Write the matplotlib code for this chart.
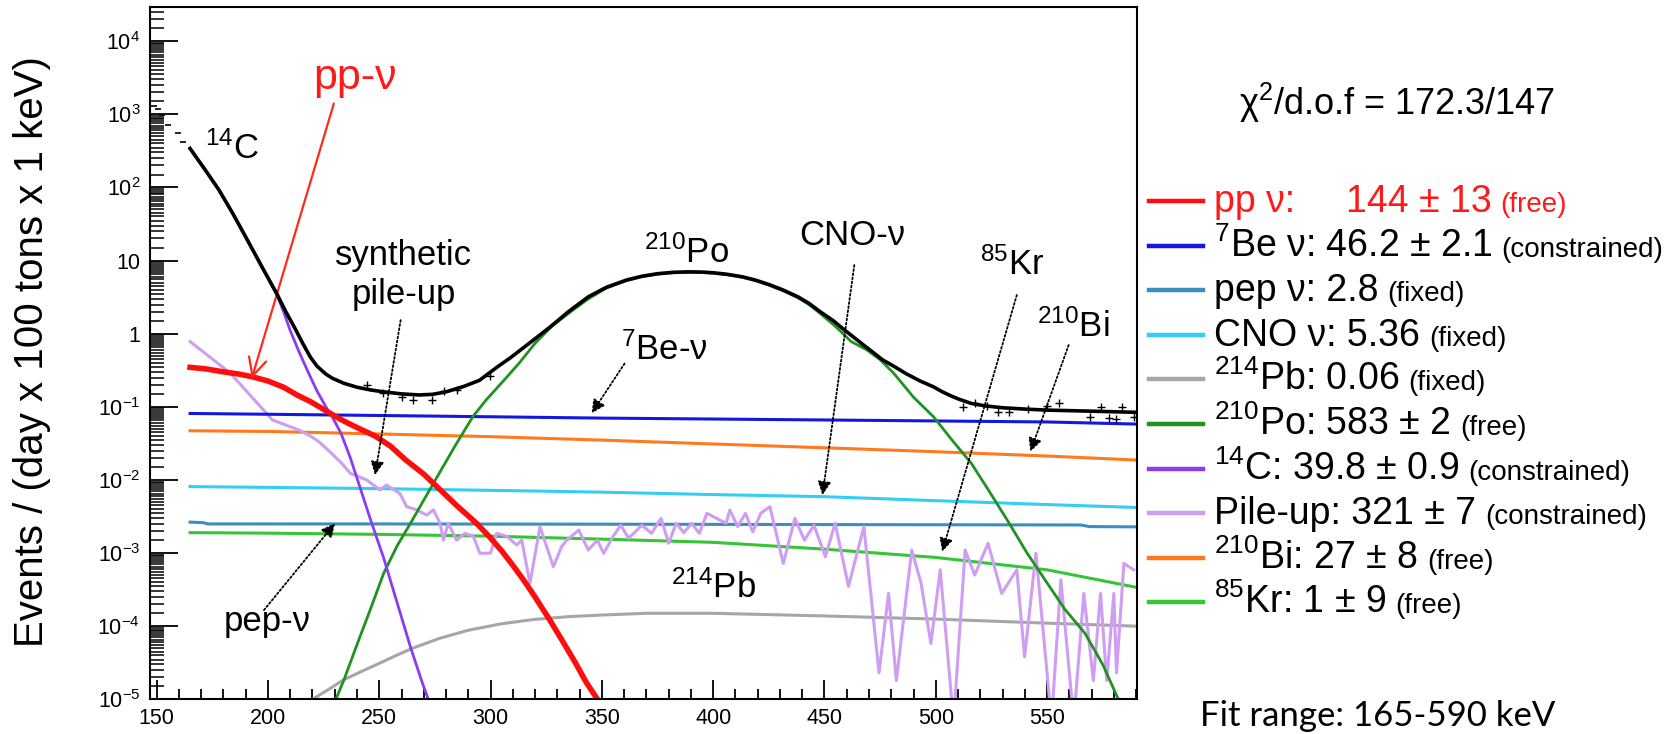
import matplotlib
matplotlib.use('Agg')
import matplotlib.pyplot as plt
from matplotlib.lines import Line2D
from matplotlib.ticker import FixedLocator, NullFormatter

plt.rcParams['font.family'] = ['Liberation Sans', 'DejaVu Sans']
plt.rcParams['mathtext.fontset'] = 'custom'
plt.rcParams['mathtext.rm'] = 'Liberation Sans'
plt.rcParams['mathtext.default'] = 'regular'

#####################################################
# Values (keV, events / day / 100 t / keV)
#####################################################
# total fit (black)
fit_kev = [165, 172, 178, 184, 190, 197, 204, 208, 212, 216, 219, 222, 226, 229, 234, 240,
           246, 252, 260, 268, 274, 280, 288, 295, 303, 309, 315, 321, 327, 335, 344, 352,
           361, 368, 375, 382, 389, 395, 400, 406, 413, 419, 425, 431, 438, 443, 448, 454,
           459, 463, 467, 471, 476, 481, 487, 493, 499, 503, 507, 511, 516, 522, 530, 540,
           550, 570, 590]
fit_cts = [340, 170, 92, 45, 21, 8.5, 3.5, 2.0, 1.2, 0.7, 0.48, 0.36, 0.28, 0.245, 0.21, 0.185,
           0.17, 0.16, 0.15, 0.145, 0.148, 0.16, 0.19, 0.23, 0.35, 0.47, 0.65, 0.9, 1.25, 2.0,
           3.2, 4.3, 5.4, 6.1, 6.6, 6.9, 7.0, 6.95, 6.8, 6.5, 6.0, 5.4, 4.7, 4.0, 3.2, 2.6,
           2.0, 1.5, 1.12, 0.9, 0.72, 0.58, 0.44, 0.36, 0.28, 0.225, 0.187, 0.16, 0.14,
           0.125, 0.111, 0.103, 0.097, 0.093, 0.09, 0.087, 0.084]

# data points (crosses) and the points below the fit range
data_kev = [244.7, 251.5, 260.1, 265.3, 273.9, 279.0, 284.8, 299.7, 512.4, 517.5, 523.0,
            527.9, 533.0, 541.6, 550.0, 555.3, 569.1, 574.2, 577.7, 581.0, 583.5, 588.9]
data_cts = [0.20, 0.152, 0.138, 0.124, 0.124, 0.165, 0.17, 0.26, 0.10, 0.113, 0.104,
            0.086, 0.086, 0.094, 0.104, 0.113, 0.073, 0.10, 0.071, 0.067, 0.10, 0.073]
low_kev = [149, 150.5, 152.2, 155.2, 159.7, 162.0]
low_cts = [1300, 1175, 968, 708, 547, 420]

# pp neutrinos
pp_kev = [165, 172, 180, 187, 193, 200, 207, 213, 219, 224, 229, 234, 240, 248, 255, 262,
          270, 277, 285, 294, 300, 305, 310, 315, 320, 326, 332, 338, 343, 348]
pp_cts = [0.346, 0.33, 0.30, 0.28, 0.257, 0.225, 0.185, 0.145, 0.118, 0.096, 0.078, 0.064,
          0.052, 0.040, 0.029, 0.0186, 0.012, 7.5e-3, 4.4e-3, 2.5e-3, 1.6e-3, 1.07e-3,
          6.8e-4, 4.2e-4, 2.5e-4, 1.3e-4, 6.5e-5, 3.2e-5, 1.7e-5, 1e-5]

# 7Be neutrinos
be7_kev = [165, 200, 250, 300, 350, 400, 450, 500, 550, 590]
be7_cts = [0.081, 0.079, 0.076, 0.073, 0.070, 0.068, 0.066, 0.064, 0.062, 0.058]

# pep neutrinos
pep_kev = [165, 171, 173, 250, 350, 450, 565, 569, 590]
pep_cts = [2.65e-3, 2.6e-3, 2.5e-3, 2.5e-3, 2.48e-3, 2.45e-3, 2.42e-3, 2.3e-3, 2.28e-3]

# CNO neutrinos
cno_kev = [165, 200, 250, 300, 350, 400, 450, 500, 550, 590]
cno_cts = [8.1e-3, 7.9e-3, 7.6e-3, 7.2e-3, 6.8e-3, 6.3e-3, 5.9e-3, 5.2e-3, 4.6e-3, 4.2e-3]

# 214Pb
pb_kev = [220, 227, 234, 242, 250, 257, 265, 277, 290, 305, 320, 335, 350, 370, 400, 450,
          500, 550, 590]
pb_cts = [1e-5, 1.35e-5, 1.85e-5, 2.4e-5, 3.1e-5, 3.9e-5, 5e-5, 6.8e-5, 8.8e-5, 1.08e-4,
          1.24e-4, 1.35e-4, 1.42e-4, 1.5e-4, 1.5e-4, 1.38e-4, 1.25e-4, 1.1e-4, 1e-4]

# 210Po
po_kev = [230.5, 234, 240, 246, 252, 258, 264, 270, 276, 284, 292, 298, 306, 313, 320, 328,
          337, 344, 352, 361, 368, 375, 382, 389, 395, 400, 406, 413, 419, 425, 431, 438,
          443, 448, 455, 462, 469, 475, 481, 486, 490, 499, 507, 516, 524, 533, 541, 550,
          558, 567, 575, 582]
po_cts = [1e-5, 1.8e-5, 5.6e-5, 1.7e-4, 5.3e-4, 1.25e-3, 2.55e-3, 5.3e-3, 0.011, 0.029,
          0.073, 0.124, 0.23, 0.4, 0.74, 1.3, 2.1, 3.0, 4.2, 5.3, 6.0, 6.5, 6.8, 6.9, 6.85,
          6.7, 6.4, 5.9, 5.3, 4.6, 3.9, 3.1, 2.5, 1.9, 1.25, 0.78, 0.6, 0.44, 0.29, 0.19,
          0.135, 0.073, 0.036, 0.0168, 7e-3, 2.55e-3, 1.0e-3, 3.9e-4, 1.7e-4, 8e-5, 3e-5, 1e-5]

# 14C
c14_kev = [165, 172, 178, 184, 190, 197, 204, 207, 210, 214, 218, 222, 226, 229, 233, 237,
           241, 246, 252, 258, 264, 269, 272]
c14_cts = [340, 170, 92, 45, 21, 8.5, 3.4, 2.0, 1.1, 0.56, 0.3, 0.165, 0.1, 0.072, 0.042,
           0.02, 8.5e-3, 2.9e-3, 8.5e-4, 2.1e-4, 5.2e-5, 1.8e-5, 1e-5]

# synthetic pile-up
pu_kev = [165, 183, 202, 214, 219, 223, 228, 233, 237, 241, 244.3, 250.3, 253.3, 259.3,
          262.3, 266.8, 271.3, 274.3, 277.3, 278.8, 281, 284.7, 288.5, 292.2, 295.2, 300,
          302.7, 307.2, 311.7, 314, 317.7, 322.2, 328.2, 331.9, 334.2, 339.6, 343.9, 348,
          350.8, 355.1, 358.5, 362, 368, 372.3, 376.6, 380, 383.4, 386.8, 390.3, 393.8,
          397.2, 401.5, 405.8, 407.5, 411, 414.5, 417.8, 421.4, 425.5, 431.5, 436.7, 441,
          445.3, 450.4, 454.8, 460.8, 467.7, 474.5, 478.8, 482.3, 489.2, 493.4, 497.8, 502,
          508, 513.2, 517.5, 523.5, 529.6, 536.4, 539.9, 545, 552, 556.2, 562, 566.5, 570.8,
          574, 576.8, 580, 581.2, 584.5, 588.9]
pu_cts = [0.78, 0.29, 0.066, 0.048, 0.040, 0.033, 0.024, 0.017, 0.0123, 0.011, 0.010,
          7.3e-3, 8.5e-3, 6.5e-3, 4.3e-3, 3.9e-3, 3.3e-3, 3.9e-3, 2.55e-3, 1.5e-3, 2.55e-3,
          1.5e-3, 1.86e-3, 1.7e-3, 9.9e-4, 1e-3, 1.86e-3, 1.7e-3, 1.29e-3, 1.5e-3, 3.86e-4,
          2.29e-3, 6.5e-4, 1.22e-3, 1.5e-3, 2.06e-3, 1.1e-3, 1.5e-3, 9.9e-4, 1.7e-3, 2.4e-3,
          1.59e-3, 2.4e-3, 1.86e-3, 2.98e-3, 1.36e-3, 2.55e-3, 1.9e-3, 2.55e-3, 1.86e-3,
          3.49e-3, 2.98e-3, 2.55e-3, 3.87e-3, 2.3e-3, 3.5e-3, 1.95e-3, 3.5e-3, 4.3e-3, 7.2e-4,
          2.98e-3, 1.5e-3, 2.4e-3, 8.9e-4, 2.55e-3, 3.5e-4, 2.3e-3, 2.3e-5, 2.8e-4, 1.8e-5,
          1.1e-3, 3.86e-4, 5.8e-5, 5.9e-4, 5e-6, 1.1e-3, 5e-4, 1.36e-3, 2.8e-4, 5.9e-4,
          3.8e-5, 9.9e-4, 5e-6, 4.3e-4, 5e-6, 2.8e-4, 1.8e-5, 2.8e-4, 1.8e-5, 2.8e-4, 2.3e-5,
          7.2e-4, 5.9e-4]

# 210Bi
bi_kev = [165, 200, 250, 300, 350, 400, 450, 500, 550, 590]
bi_cts = [0.047, 0.046, 0.0425, 0.039, 0.035, 0.031, 0.0275, 0.0243, 0.0212, 0.0187]

# 85Kr
kr_kev = [165, 200, 250, 300, 350, 400, 450, 500, 550, 590]
kr_cts = [1.9e-3, 1.87e-3, 1.8e-3, 1.7e-3, 1.55e-3, 1.4e-3, 1.13e-3, 8.7e-4, 5.9e-4, 3.4e-4]

# legend text
leg_names = ['pp ν:', '$^{7}$Be ν:', 'pep ν:', 'CNO ν:', '$^{214}$Pb:',
             '$^{210}$Po:', '$^{14}$C:', 'Pile-up:', '$^{210}$Bi:', '$^{85}$Kr:']
leg_values = ['144 ± 13', '46.2 ± 2.1', '2.8', '5.36', '0.06', '583 ± 2',
              '39.8 ± 0.9', '321 ± 7', '27 ± 8', '1 ± 9']
leg_status = ['(free)', '(constrained)', '(fixed)', '(fixed)', '(fixed)', '(free)',
              '(constrained)', '(constrained)', '(free)', '(free)']

W, H = 1675, 734
fig = plt.figure(figsize=(W / 100, H / 100), dpi=100)
ax = fig.add_axes([150 / W, 1 - 699.3 / H, 987 / W, 692 / H])
ax.set_yscale('log')

# components
l_bi, = ax.plot(bi_kev, bi_cts, color='#ff7a1c', lw=2.2)
l_cno, = ax.plot(cno_kev, cno_cts, color='#33cdf5', lw=2.2)
l_pep, = ax.plot(pep_kev, pep_cts, color='#3a8fbf', lw=2.2)
l_kr, = ax.plot(kr_kev, kr_cts, color='#35c535', lw=2.2)
l_pb, = ax.plot(pb_kev, pb_cts, color='#a6a6a6', lw=2.2)
l_pu, = ax.plot(pu_kev, pu_cts, color='#cf9df2', lw=2.2, solid_joinstyle='round')
l_be, = ax.plot(be7_kev, be7_cts, color='#1218e0', lw=2.2)
l_po, = ax.plot(po_kev, po_cts, color='#1f921f', lw=2.0)
l_c14, = ax.plot(c14_kev, c14_cts, color='#8a3cf0', lw=2.0)
l_pp, = ax.plot(pp_kev, pp_cts, color='#ff0d0d', lw=4.0)

# data and total fit
ax.plot(low_kev, low_cts, ls='none', marker='_', ms=5, mew=1.2, color='black')
ax.plot(data_kev, data_cts, ls='none', marker='+', ms=6, mew=1.0, color='black', zorder=5)
ax.plot(fit_kev, fit_cts, color='black', lw=2.6, zorder=6)

ax.set_xlim(147, 590.4)
ax.set_ylim(1e-5, 2.9e4)

# axes styling (ROOT look)
for side in ['left', 'bottom', 'top', 'right']:
    ax.spines[side].set_linewidth(1.5)
ax.xaxis.set_major_locator(FixedLocator(range(150, 600, 50)))
ax.xaxis.set_minor_locator(FixedLocator(range(160, 591, 10)))
ax.set_xticklabels([str(v) for v in range(150, 600, 50)])
ax.yaxis.set_major_locator(FixedLocator([10.0 ** k for k in range(-5, 5)]))
ax.set_yticklabels(['$10^{-5}$', '$10^{-4}$', '$10^{-3}$', '$10^{-2}$', '$10^{-1}$',
                    '1', '10', '$10^{2}$', '$10^{3}$', '$10^{4}$'])
minors = [m * 10.0 ** k for k in range(-5, 5) for m in
          (1.5, 2, 2.5, 3, 3.5, 4, 4.5, 5, 5.5, 6, 6.5, 7, 7.5, 8, 8.5, 9, 9.5)]
ax.yaxis.set_minor_locator(FixedLocator(minors))
ax.yaxis.set_minor_formatter(NullFormatter())
ax.tick_params(axis='x', which='major', direction='in', length=14, width=1.3,
               labelsize=15.5, pad=6, top=False)
ax.tick_params(axis='x', which='minor', direction='in', length=7, width=1.3, top=False)
ax.tick_params(axis='y', which='major', direction='in', length=20, width=1.3,
               labelsize=15.5, pad=7, right=False)
ax.tick_params(axis='y', which='minor', direction='in', length=10, width=1.1, right=False)

fig.text(32 / W, 1 - 352 / H, 'Events / (day x 100 tons x 1 keV)', rotation=90,
         ha='center', va='center', fontsize=29)

# labels on the curves
lab = dict(ha='center', va='baseline', fontsize=25)
ax.text(239, 2200, 'pp-ν', color='#ff1a1a', ha='center', va='baseline', fontsize=31)
ax.text(171.7, 249, '$^{14}$C', ha='left', va='baseline', fontsize=25)
ax.text(261, 8.65, 'synthetic', **lab)
ax.text(261, 2.54, 'pile-up', **lab)
ax.text(199.6, 8.7e-5, 'pep-ν', **lab)
ax.text(377.9, 0.434, '$^{7}$Be-ν', **lab)
ax.text(387.8, 9.23, '$^{210}$Po', **lab)
ax.text(462.6, 16.3, 'CNO-ν', **lab)
ax.text(534.2, 6.3, '$^{85}$Kr', **lab)
ax.text(561.8, 0.897, '$^{210}$Bi', **lab)
ax.text(400.2, 2.43e-4, '$^{214}$Pb', **lab)

ax.annotate('', xy=(192.7, 0.244), xytext=(229.6, 1406),
            arrowprops=dict(arrowstyle='->', color='#ff2a1a', lw=1.6, mutation_scale=32,
                            shrinkA=0, shrinkB=0))


def pointer(start, tip):
    ax.annotate('', xy=tip, xytext=start,
                arrowprops=dict(arrowstyle='-|>', color='black', lw=1.3,
                                linestyle=(0, (1.0, 1.3)), mutation_scale=20,
                                shrinkA=0, shrinkB=0))


pointer((259.6, 1.53), (248.1, 0.01164))
pointer((198.2, 1.66e-4), (230.1, 2.55e-3))
pointer((360.2, 0.39), (345.4, 0.0813))
pointer((463.4, 8.65), (449.1, 6.2e-3))
pointer((536.4, 3.37), (502.9, 1.04e-3))
pointer((559.7, 0.698), (542.5, 0.0243))

# right-hand panel
fig.text(1397 / W, 1 - 115 / H, 'χ$^{2}$/d.o.f = 172.3/147', ha='center',
         va='baseline', fontsize=26)

leg_lines = [l_pp, l_be, l_pep, l_cno, l_pb, l_po, l_c14, l_pu, l_bi, l_kr]
fig.canvas.draw()
rend = fig.canvas.get_renderer()
for i, (line, name, val, stat) in enumerate(zip(leg_lines, leg_names, leg_values, leg_status)):
    base = 212 + 44.6 * i
    col = line.get_color()
    fig.add_artist(Line2D([1149 / W, 1203 / W], [1 - (base - 11) / H] * 2, color=col, lw=3.2))
    tcol = '#ff1a1a' if i == 0 else 'black'
    if i == 0:
        fig.text(1214 / W, 1 - base / H, name, color=tcol, va='baseline', fontsize=27)
        t = fig.text(1346 / W, 1 - base / H, val, color=tcol, va='baseline', fontsize=27)
    else:
        t = fig.text(1214 / W, 1 - base / H, name + ' ' + val, color=tcol, va='baseline',
                     fontsize=27)
    x1 = t.get_window_extent(rend).x1
    fig.text((x1 + 9) / W, 1 - base / H, stat, color=tcol, va='baseline', fontsize=20)

fig.text(1378 / W, 1 - 726 / H, 'Fit range: 165-590 keV', ha='center', va='baseline',
         fontsize=25, family=['Lato', 'DejaVu Sans'])

fig.savefig('out.png', dpi=100)
